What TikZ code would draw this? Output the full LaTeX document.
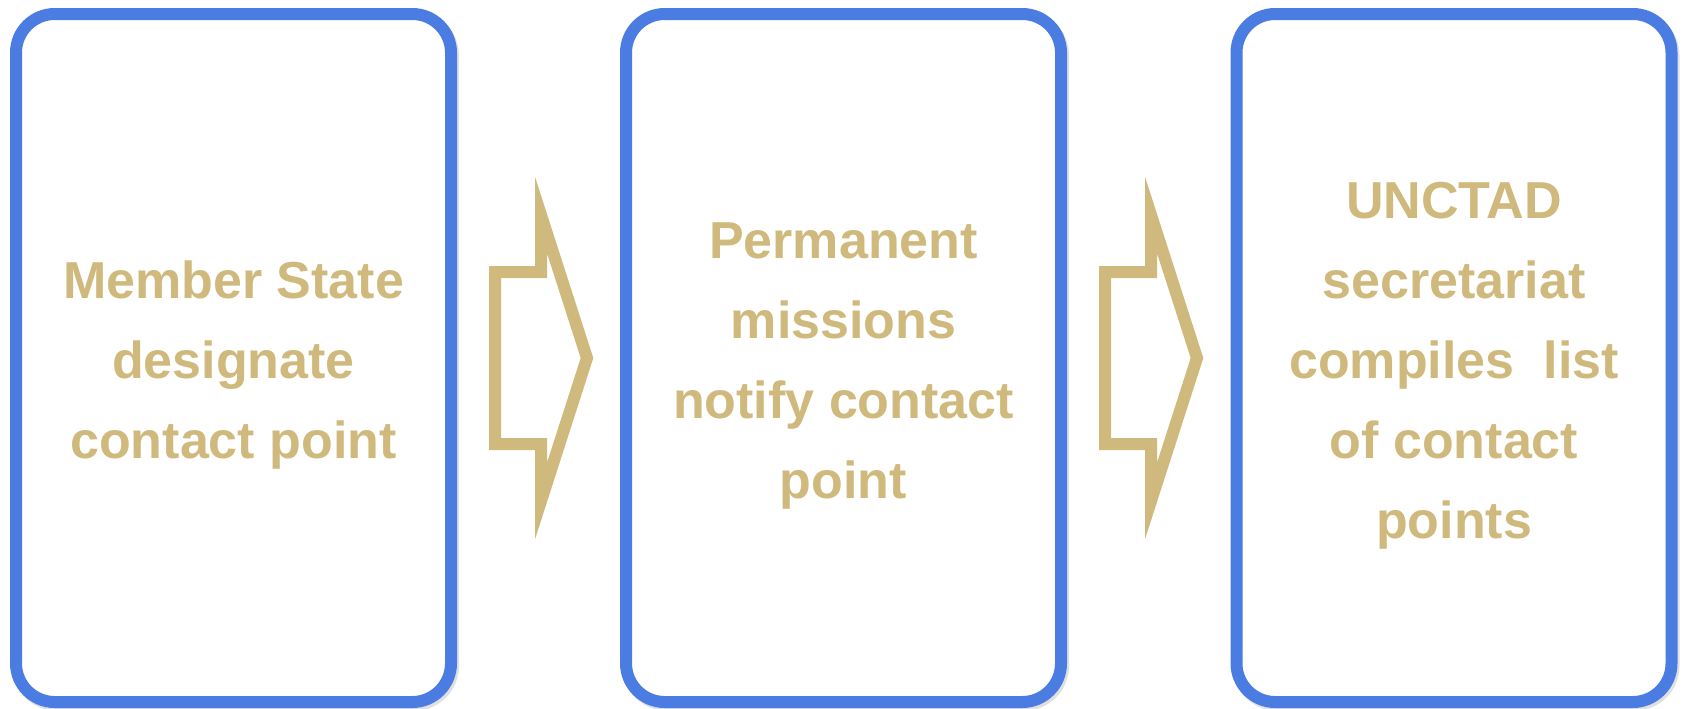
\documentclass[tikz,border=0pt]{standalone}
\usepackage{fontspec}
\setmainfont{Liberation Sans}

\definecolor{stepblue}{RGB}{74,124,226}
\definecolor{steptan}{RGB}{207,185,125}
\newcommand{\topgap}{\rule{0pt}{39pt}}

\tikzset{every picture/.style={line width=0.75pt}}
\tikzset{
  stepbox/.style={draw=stepblue, line width=9pt, rounded corners=29pt, fill=white,
    minimum width=326.25pt, minimum height=516pt, inner sep=0pt, align=center,
    text=steptan, font=\fontsize{39}{60}\selectfont\bfseries,
    preaction={draw=black, opacity=0.12, transform canvas={xshift=1.5pt, yshift=-2pt}}},
  flowarrow/.style={draw=steptan, line width=9pt, fill=white,
    preaction={draw=black, opacity=0.12, transform canvas={xshift=1.5pt, yshift=-2pt}}}
}

\begin{document}
\begin{tikzpicture}[x=0.75pt,y=0.75pt,yscale=-1,xscale=1]
\useasboundingbox (0,0) rectangle (1683,708);

%Rounded Rect [id:member]
\node[stepbox] (member) at (233.5,358) {\topgap Member State\\designate\\contact point};
%Rounded Rect [id:mission]
\node[stepbox] (mission) at (843.5,358) {\topgap Permanent\\missions\\notify contact\\point};
%Rounded Rect [id:unctad]
\node[stepbox] (unctad) at (1454,358) {\topgap UNCTAD\\secretariat\\compiles\ \ list\\of contact\\points};

%Shape: Right Arrow [id:memberToMission]
\draw [flowarrow] (495,272) -- (541,272) -- (541,215) -- (587,358) -- (541,501) -- (541,444) -- (495,444) -- cycle ;
%Shape: Right Arrow [id:missionToUnctad]
\draw [flowarrow] (1105,272) -- (1151,272) -- (1151,215) -- (1197,358) -- (1151,501) -- (1151,444) -- (1105,444) -- cycle ;

\end{tikzpicture}
\end{document}
